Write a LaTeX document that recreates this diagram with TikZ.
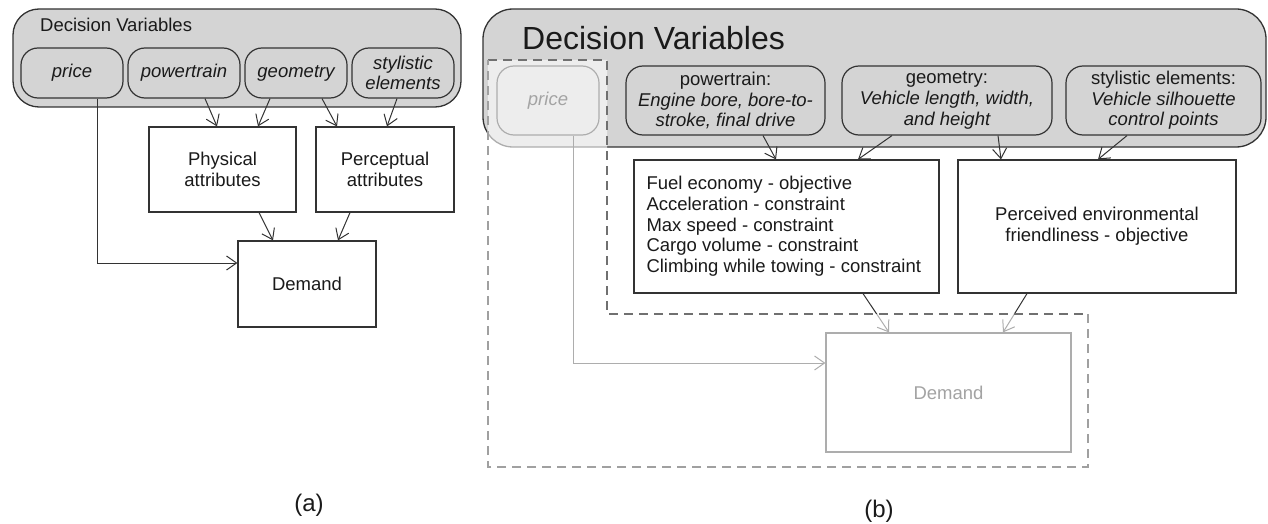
\documentclass[tikz,border=0pt]{standalone}
\usepackage{fontspec}
\setmainfont{Liberation Sans}
\usetikzlibrary{arrows.meta,calc}
\definecolor{ink}{HTML}{1A1A1A}
\definecolor{edgec}{HTML}{333333}
\definecolor{dvfill}{HTML}{D4D4D4}
\definecolor{dashdark}{HTML}{707070}
\definecolor{dashlight}{HTML}{A0A0A0}
\newcommand\dgfont{\fontsize{18.5}{20.7}\selectfont}
\newcommand\bigtitlefont{\fontsize{32}{36}\selectfont}
\newcommand\lblfont{\fontsize{24}{28}\selectfont}
\begin{document}
\begin{tikzpicture}[x=1pt,y=-1pt,
  outerbox/.style={draw=edgec, line width=1.3pt, fill=dvfill, inner sep=0pt},
  varbox/.style={draw=edgec, line width=1.2pt, fill=dvfill, rounded corners=17pt, inner sep=0pt, text=ink, align=center, font=\dgfont},
  attrbox/.style={draw=edgec, line width=1.2pt, fill=white, inner sep=0pt, text=ink, align=center, font=\dgfont},
  arr/.style={draw=edgec, line width=1pt, -{Straight Barb[length=10pt,width=14pt]}},
  dashd/.style={draw=dashdark, line width=1.1pt, dash pattern=on 9pt off 6pt},
  dashl/.style={draw=dashlight, line width=1.1pt, dash pattern=on 9pt off 6pt}
]
\useasboundingbox (0,0) rectangle (1268,524);

% ---------------- panel (a) ----------------
\node[outerbox, rounded corners=26pt, minimum width=448pt, minimum height=98pt] (dvA) at (237,58) {};
\node[anchor=west, text=ink, font=\dgfont, inner sep=0pt] (titleA) at (40,25) {Decision Variables};
\node[varbox, minimum width=102pt, minimum height=50pt] (prA) at (72,73) {\itshape price};
\node[varbox, minimum width=112pt, minimum height=50pt] (ptA) at (184,73) {\itshape powertrain};
\node[varbox, minimum width=102pt, minimum height=50pt] (geA) at (296,73) {\itshape geometry};
\node[varbox, minimum width=102pt, minimum height=50pt] (stA) at (403,73) {\itshape stylistic\\\itshape elements};
\node[attrbox, minimum width=147pt, minimum height=85pt] (phys) at (222.5,169.5) {Physical\\attributes};
\node[attrbox, minimum width=138pt, minimum height=85pt] (perc) at (385,169.5) {Perceptual\\attributes};
\node[attrbox, minimum width=138pt, minimum height=86pt] (demA) at (307,284) {Demand};

\draw[arr] ([xshift=21pt]ptA.south) -- ([xshift=-5.5pt]phys.north);
\draw[arr] ([xshift=-26pt]geA.south) -- ([xshift=35.5pt]phys.north);
\draw[arr] ([xshift=26pt]geA.south) -- ([xshift=-48pt]perc.north);
\draw[arr] ([xshift=-6pt]stA.south) -- ([xshift=2pt]perc.north);
\draw[arr] ([xshift=36.5pt]phys.south) -- ([xshift=-34pt]demA.north);
\draw[arr] ([xshift=-35pt]perc.south) -- ([xshift=31pt]demA.north);
\draw[arr] ([xshift=25pt]prA.south) |- ([yshift=21pt]demA.west);

\node[text=ink, font=\lblfont, inner sep=0pt] (labA) at (309,505) {(a)};

% ---------------- panel (b) ----------------
\node[outerbox, rounded corners=30pt, minimum width=783pt, minimum height=138pt] (dvB) at (874.5,78) {};
\node[anchor=west, text=ink, font=\bigtitlefont, inner sep=0pt] (titleB) at (522,38) {Decision Variables};
\node[varbox, minimum width=102pt, minimum height=69pt] (prB) at (548,100.5) {\itshape price};
\node[varbox, minimum width=199pt, minimum height=69pt] (ptB) at (725.5,100.5) {powertrain:\\\itshape Engine bore, bore-to-\\\itshape stroke, final drive};
\node[varbox, minimum width=210pt, minimum height=69pt] (geB) at (947,100.5) {geometry:\\\itshape Vehicle length, width,\\\itshape and height};
\node[varbox, minimum width=195pt, minimum height=69pt] (stB) at (1163.5,100.5) {stylistic elements:\\\itshape Vehicle silhouette\\\itshape control points};
\node[attrbox, minimum width=305pt, minimum height=133pt] (fuel) at (786.5,226.5)
  {\begin{minipage}{280pt}\dgfont Fuel economy - objective\\Acceleration - constraint\\Max speed - constraint\\Cargo volume - constraint\\Climbing while towing - constraint\end{minipage}};
\node[attrbox, minimum width=278pt, minimum height=133pt] (envf) at (1097,226.5) {Perceived environmental\\friendliness - objective};
\node[attrbox, minimum width=245pt, minimum height=119pt] (demB) at (948.5,392.5) {Demand};

\draw[arr] ([xshift=37.5pt]ptB.south) -- ([xshift=-10.5pt]fuel.north);
\draw[arr] ([xshift=-55pt]geB.south) -- ([xshift=71.5pt]fuel.north);
\draw[arr] ([xshift=51pt]geB.south) -- ([xshift=-96pt]envf.north);
\draw[arr] ([xshift=-36.5pt]stB.south) -- ([xshift=1pt]envf.north);
\draw[arr] ([xshift=76.5pt]fuel.south) -- ([xshift=-59.5pt]demB.north);
\draw[arr] ([xshift=-70pt]envf.south) -- ([xshift=54.5pt]demB.north);
\draw[arr] ([xshift=25pt]prB.south) |- ([yshift=29.5pt]demB.west);

% faded region overlay
\fill[white, fill opacity=0.6] (488,60) -- (607,60) -- (607,314) -- (1088,314) -- (1088,467) -- (488,467) -- cycle;
\draw[dashd] (488,60) -- (607,60) -- (607,314) -- (1088,314);
\draw[dashl] (1088,314) -- (1088,467) -- (488,467) -- (488,60);

\node[text=ink, font=\lblfont, inner sep=0pt] (labB) at (879,511) {(b)};
\end{tikzpicture}
\end{document}
